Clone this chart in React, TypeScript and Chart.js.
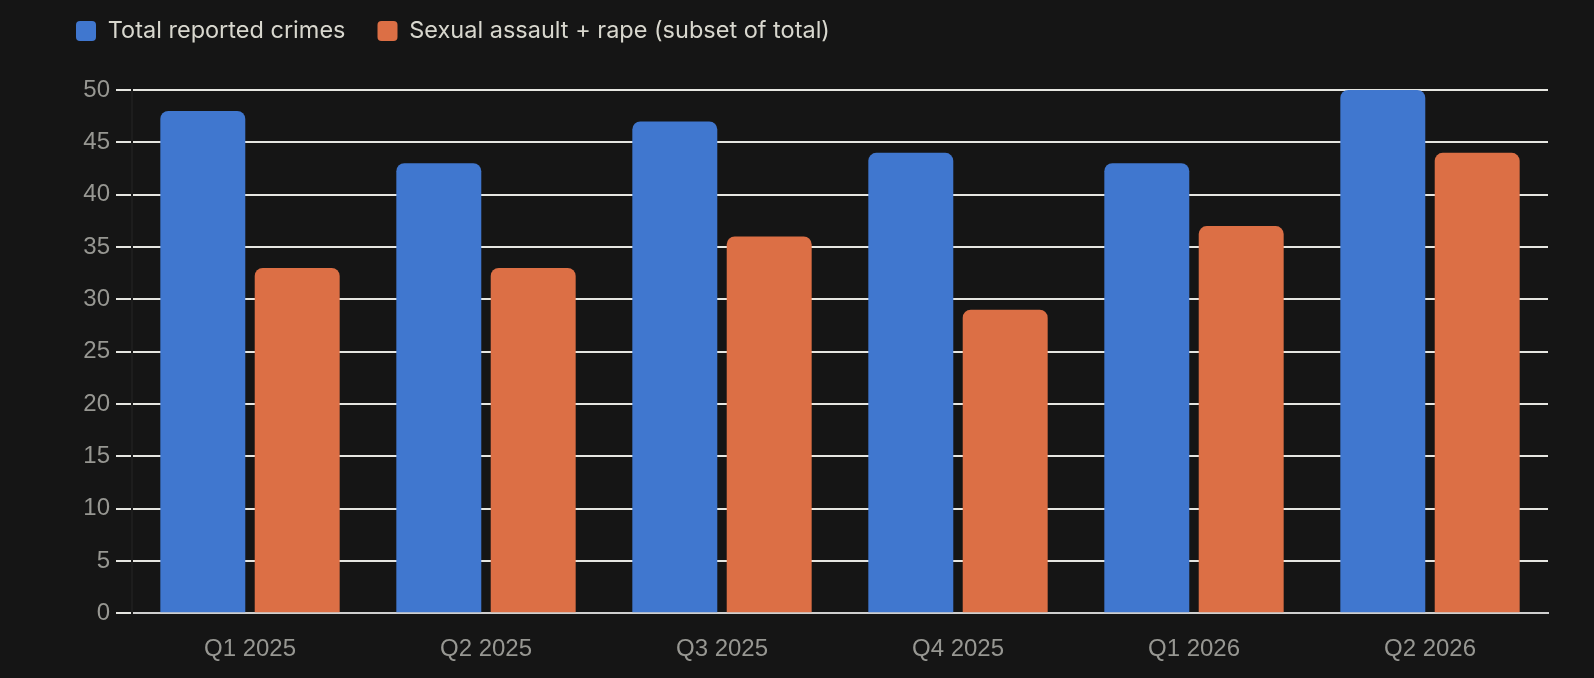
import { useEffect, useRef } from "react";
import { Chart, registerables } from "chart.js";

Chart.register(...registerables);

const quarters = ["Q1 2025", "Q2 2025", "Q3 2025", "Q4 2025", "Q1 2026", "Q2 2026"];
const totalCrimes = [48, 43, 47, 44, 43, 50];
const sexualAssault = [33, 33, 36, 29, 37, 44];
const seriesNames = ["Total reported crimes", "Sexual assault + rape (subset of total)"];

const BG = "#151515";
const GRID = "#e6e6e1";
const TICK = "#979792";

// push the chart area down below the legend
const legendSpacer = {
  id: "legendSpacer",
  beforeInit(chart: any) {
    const fit = chart.legend.fit;
    chart.legend.fit = function () {
      fit.call(this);
      this.height += 37.25;
    };
  },
};

export default function App() {
  const ref = useRef<HTMLCanvasElement | null>(null);

  useEffect(() => {
    document.body.style.margin = "0";
    document.body.style.background = BG;
    if (!ref.current) return;
    const chart = new Chart(ref.current, {
      type: "bar",
      data: {
        labels: quarters,
        datasets: [
          {
            label: seriesNames[0],
            data: totalCrimes,
            backgroundColor: "#4077cf",
            borderRadius: 8,
            categoryPercentage: 0.8,
            barPercentage: 0.9,
          },
          {
            label: seriesNames[1],
            data: sexualAssault,
            backgroundColor: "#dc6f45",
            borderRadius: 8,
            categoryPercentage: 0.8,
            barPercentage: 0.9,
          },
        ],
      },
      options: {
        animation: false,
        responsive: true,
        maintainAspectRatio: false,
        layout: { padding: { left: 44, right: 46, top: -12.75, bottom: -8 } },
        plugins: {
          tooltip: { enabled: false },
          legend: {
            position: "top",
            align: "start",
            labels: {
              color: "#d8d7ce",
              font: { family: "Inter, 'Noto Sans', sans-serif", size: 23.5 },
              boxWidth: 20,
              boxHeight: 20,
              padding: 32,
              useBorderRadius: true,
              borderRadius: 4,
            },
          },
        },
        scales: {
          x: {
            grid: { display: false, drawTicks: false },
            border: { display: true, color: "#cfcfcf", width: 2 },
            ticks: {
              color: TICK,
              padding: 22,
              font: { family: "'Liberation Sans', Arial, sans-serif", size: 24 },
            },
          },
          y: {
            min: 0,
            max: 50,
            afterFit(scale: any) {
              scale.width = 88;
            },
            grid: { color: GRID, lineWidth: 2, tickLength: 16, tickColor: GRID },
            border: { display: true, color: "#1d1d1d", width: 2 },
            ticks: {
              stepSize: 5,
              color: TICK,
              padding: 6,
              font: { family: "'Liberation Sans', Arial, sans-serif", size: 24 },
            },
          },
        },
      },
      plugins: [legendSpacer],
    });
    return () => chart.destroy();
  }, []);

  return (
    <div style={{ width: "1594px", height: "678px", background: BG, position: "relative" }}>
      <canvas ref={ref}></canvas>
    </div>
  );
}
